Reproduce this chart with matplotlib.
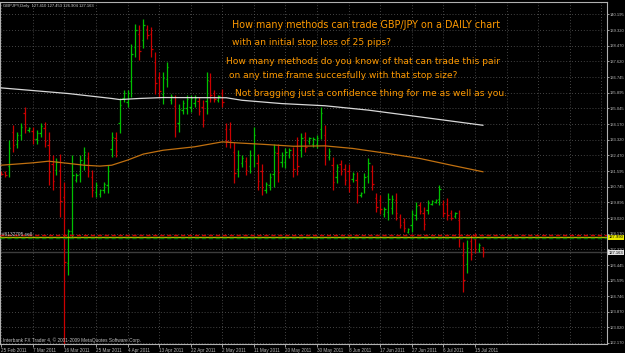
import matplotlib
matplotlib.use("Agg")
import matplotlib.pyplot as plt
import numpy as np

# ---------------- data ----------------
opens = [131.55, 131.53, 131.88, 133.75, 133.11, 133.57, 134.76, 133.83, 133.79, 133.33,
         133.71, 133.96, 133.02, 131.99, 131.65, 131.66, 130.20, 126.55, 128.30, 131.10,
         131.45, 132.03, 132.31, 131.29, 130.44, 130.33, 130.56, 130.84, 132.79, 133.40,
         134.24, 135.58, 135.41, 136.55, 138.41, 139.11, 138.81, 139.41, 139.09, 137.56,
         136.70, 135.82, 136.62, 135.47, 135.19, 134.22, 134.97, 135.05, 135.12, 135.31,
         135.42, 135.12, 135.44, 136.56, 135.87, 135.50, 135.87, 133.89, 133.93, 132.63,
         131.72, 132.02, 132.13, 131.85, 132.49, 132.06, 131.58, 130.56, 130.83, 131.45,
         132.59, 132.08, 132.07, 132.46, 132.52, 132.96, 132.76, 133.48, 133.22, 133.10,
         133.06, 133.90, 133.57, 132.39, 131.92, 131.25, 131.99, 131.72, 131.62, 131.18,
         131.13, 130.27, 130.70, 131.33, 131.58, 130.12, 130.03, 129.26, 129.35, 129.57,
         130.01, 129.07, 128.82, 128.26, 128.63, 129.21, 129.75, 129.32, 129.49, 129.81,
         129.89, 130.06, 129.78, 129.80, 129.32, 129.11, 128.89, 127.01, 126.50, 127.75,
         127.90, 127.30, 127.410]
highs = [131.61, 131.61, 133.29, 134.12, 133.75, 134.21, 135.12, 134.02, 134.02, 133.84,
         134.24, 134.30, 133.75, 132.47, 132.29, 132.51, 131.01, 128.40, 132.47, 131.47,
         132.47, 132.93, 132.65, 131.65, 131.01, 130.64, 131.01, 131.92, 133.75, 133.75,
         135.58, 136.03, 136.07, 138.59, 139.69, 139.59, 139.96, 139.59, 139.50, 138.13,
         137.04, 137.04, 137.58, 135.85, 135.76, 135.30, 135.48, 135.76, 135.76, 135.76,
         135.67, 135.48, 137.04, 136.95, 136.03, 135.76, 136.12, 134.21, 134.30, 133.20,
         132.75, 132.47, 132.38, 132.75, 134.02, 132.56, 132.01, 131.01, 131.47, 133.11,
         133.11, 132.65, 132.84, 132.84, 132.93, 133.48, 133.66, 133.75, 133.48, 133.48,
         133.57, 135.12, 134.12, 132.84, 132.38, 132.01, 132.20, 132.01, 132.01, 131.56,
         131.56, 130.46, 131.47, 132.29, 131.92, 130.37, 130.28, 129.64, 130.37, 130.28,
         130.37, 129.27, 129.00, 128.45, 129.46, 129.91, 129.91, 129.64, 130.01, 130.01,
         130.04, 130.83, 130.01, 130.10, 129.46, 129.37, 129.46, 127.72, 127.80, 128.09,
         128.20, 127.65, 127.453]
lows = [131.38, 131.28, 131.28, 132.65, 132.84, 133.29, 133.66, 133.75, 133.11, 133.11,
        133.48, 132.93, 130.83, 130.55, 131.38, 129.09, 119.50, 125.90, 127.91, 131.01,
        131.01, 131.65, 131.28, 130.19, 130.19, 130.19, 130.37, 130.37, 132.38, 132.38,
        133.66, 135.39, 135.12, 135.67, 137.86, 137.68, 138.32, 138.86, 137.86, 135.85,
        135.67, 135.30, 136.21, 135.30, 133.48, 133.75, 134.75, 134.75, 134.85, 135.12,
        134.66, 134.02, 134.75, 135.39, 135.39, 135.39, 135.12, 132.93, 132.84, 130.92,
        131.28, 131.83, 131.38, 131.47, 131.83, 130.55, 130.28, 130.37, 130.55, 130.74,
        131.01, 131.83, 131.74, 132.29, 131.28, 131.38, 132.38, 132.65, 133.11, 132.93,
        132.84, 133.38, 131.92, 132.20, 130.55, 130.92, 131.38, 130.83, 130.46, 131.01,
        129.82, 130.19, 130.37, 130.92, 130.55, 129.37, 129.27, 129.09, 128.91, 129.27,
        128.91, 128.45, 128.27, 128.18, 128.27, 128.91, 129.27, 128.36, 129.27, 129.73,
        129.82, 129.73, 129.09, 128.91, 128.91, 129.00, 127.45, 124.95, 125.99, 126.72,
        127.10, 127.16, 126.904]
closes = [131.44, 131.36, 132.89, 133.02, 133.57, 134.03, 134.03, 133.97, 133.34, 133.69,
          134.09, 133.27, 131.56, 131.03, 132.11, 129.95, 126.60, 128.30, 131.40, 131.38,
          132.18, 132.67, 131.62, 130.56, 130.85, 130.55, 130.88, 131.61, 133.48, 132.72,
          135.20, 135.90, 135.88, 138.00, 139.32, 138.16, 139.63, 139.04, 138.27, 136.42,
          136.01, 136.69, 137.31, 135.74, 134.05, 134.99, 135.33, 135.56, 135.58, 135.63,
          134.91, 134.39, 136.58, 135.78, 135.55, 135.69, 135.37, 133.25, 133.20, 131.49,
          132.46, 132.34, 131.63, 132.49, 133.58, 131.05, 130.71, 130.88, 131.29, 132.64,
          131.54, 132.49, 132.62, 132.73, 131.69, 131.90, 133.40, 132.93, 133.41, 133.37,
          133.42, 134.77, 132.47, 132.71, 131.01, 131.80, 131.58, 131.12, 130.85, 131.45,
          130.26, 130.41, 131.25, 132.02, 130.89, 129.62, 129.52, 129.53, 130.08, 130.08,
          129.28, 128.66, 128.45, 128.40, 129.22, 129.71, 129.43, 128.68, 129.86, 129.95,
          130.00, 130.61, 129.32, 129.21, 129.05, 129.30, 127.93, 125.60, 127.40, 127.06,
          127.35, 127.55, 127.163]

date_labels = ["25 Feb 2011", "7 Mar 2011", "16 Mar 2011", "25 Mar 2011", "4 Apr 2011",
               "13 Apr 2011", "22 Apr 2011", "2 May 2011", "11 May 2011", "20 May 2011",
               "30 May 2011", "8 Jun 2011", "17 Jun 2011", "27 Jun 2011", "6 Jul 2011",
               "15 Jul 2011"]
price_ticks = [140.195, 139.320, 138.470, 137.620, 136.745, 135.895, 135.045, 134.170,
               133.320, 132.470, 131.595, 130.745, 129.895, 129.020, 128.170, 127.320,
               126.445, 125.595, 124.746, 123.870, 123.020, 122.170]
price_tick_labels = ["140.195", "139.320", "138.470", "137.620", "136.745", "135.895",
                     "135.045", "134.170", "133.320", "132.470", "131.595", "130.745",
                     "129.895", "129.020", "128.170", "127.320", "126.445", "125.595",
                     "124.746", "123.870", "123.020", "122.170"]

white_ma_bar = [0, 17, 28, 30, 35, 41, 57, 61, 66, 71, 82, 93, 106, 122]
white_ma_val = [136.16, 135.85, 135.58, 135.52, 135.58, 135.63, 135.62, 135.48, 135.39,
                135.30, 135.18, 134.94, 134.57, 134.11]
orange_ma_bar = [0, 8, 12, 17, 21, 25, 28, 32, 36, 41, 49, 56, 60, 66, 74, 82, 89, 98,
                 106, 114, 122]
orange_ma_val = [131.92, 132.05, 132.14, 132.02, 131.92, 131.87, 131.92, 132.20, 132.53,
                 132.74, 132.93, 133.20, 133.14, 133.07, 132.96, 132.98, 132.84, 132.56,
                 132.29, 131.92, 131.56]

stop_level = 128.10
yellow_level = 127.99
entry_level = 127.95
bid_level = 127.163
yellow_label = "127.990"
bid_label = "127.163"

header = "GBPJPY,Daily  127.410 127.453 126.904 127.163"
copyright_text = "Interbank FX Trader 4, \u00a9 2001-2009 MetaQuotes Software Corp."
order_label = "#6132795 sell"
comments = ["How many methods can trade GBP/JPY on a DAILY chart",
            "with an initial stop loss of 25 pips?",
            "How many methods do you know of that can trade this pair",
            "on any time frame succesfully with that stop size?",
            "Not bragging just a confidence thing for me as well as you."]

# ---------------- figure ----------------
W, H = 625, 353
SMALL = "Liberation Sans"
fig = plt.figure(figsize=(W / 100, H / 100), dpi=100, facecolor="black")
ax = fig.add_axes([0 / W, (H - 344) / H, 606.5 / W, 342 / H])
ax.set_facecolor("black")
ax.set_xlim(-0.3, 153.3)
ax.set_ylim(122.115, 140.87)

gridc = "#5c5c5c"
for k in range(0, 153, 8):
    ax.axvline(k, color=gridc, lw=0.6, ls=(0, (1, 2.5)), zorder=0)
for p in price_ticks:
    ax.axhline(p, color=gridc, lw=0.6, ls=(0, (1, 2.5)), zorder=0)

o = np.array(opens); h = np.array(highs); l = np.array(lows); c = np.array(closes)
idx = np.arange(len(o))
cols = np.where(c >= o, "#00c000", "#cc0000")
ax.vlines(idx, l, h, colors=cols, lw=0.9, zorder=2)
ax.hlines(o, idx - 0.35, idx, colors=cols, lw=0.9, zorder=2)
ax.hlines(c, idx, idx + 0.35, colors=cols, lw=0.9, zorder=2)

ax.plot(white_ma_bar, white_ma_val, color="#d8d8d8", lw=0.9, zorder=3)
ax.plot(orange_ma_bar, orange_ma_val, color="#c07010", lw=0.9, zorder=3)

ax.axhline(bid_level, color="#3c3c3c", lw=1.0, zorder=1)
ax.axhline(stop_level, color="#d00000", lw=1.0, ls=(0, (3, 2)), zorder=4)
ax.axhline(yellow_level, color="#b8b800", lw=1.0, zorder=4)
ax.axhline(entry_level, color="#007a00", lw=1.0, ls=(0, (3, 2)), zorder=4)

for s in ax.spines.values():
    s.set_color("#b0b0b0")
    s.set_linewidth(0.8)

ax.yaxis.tick_right()
ax.set_yticks(price_ticks)
ax.set_yticklabels(price_tick_labels, fontfamily=SMALL)
ax.tick_params(axis="y", colors="#b8b8b8", labelsize=3.0, length=1.5, width=0.6, pad=0.5)
ax.set_xticks(np.arange(0, 8 * len(date_labels), 8))
ax.set_xticklabels(date_labels, ha="left", fontfamily=SMALL)
ax.tick_params(axis="x", colors="#b8b8b8", labelsize=3.3, length=2, width=0.6, pad=0.8)

# right-axis price boxes
fig.text(608.5 / W, 1 - 237.5 / H, yellow_label, color="black", fontsize=3.0, va="center",
         family=SMALL, bbox=dict(boxstyle="square,pad=0.2", fc="#e8e800", ec="none"), zorder=6)
fig.text(608.5 / W, 1 - 252.5 / H, bid_label, color="black", fontsize=3.0, va="center",
         family=SMALL, bbox=dict(boxstyle="square,pad=0.2", fc="#e0e0e0", ec="none"), zorder=6)

fig.text(3 / W, 1 - 6 / H, header, color="#d0d0d0", fontsize=3.0, va="center", family=SMALL)
fig.text(3 / W, 1 - 340 / H, copyright_text, color="#c0c0c0", fontsize=3.4, va="center",
         family=SMALL)
fig.text(2 / W, 1 - 234 / H, order_label, color="#c8c8c8", fontsize=3.4, va="center",
         family=SMALL)

comment_pos = [(232, 25.5), (232, 42.5), (226, 61.5), (229, 76), (235, 93.5)]
comment_size = [6.9, 6.6, 6.6, 6.5, 6.6]
for txt, (px, py), fs in zip(comments, comment_pos, comment_size):
    fig.text(px / W, 1 - py / H, txt, color="#ff9a00", fontsize=fs, va="center")

fig.savefig("out.png", dpi=100, facecolor="black")
